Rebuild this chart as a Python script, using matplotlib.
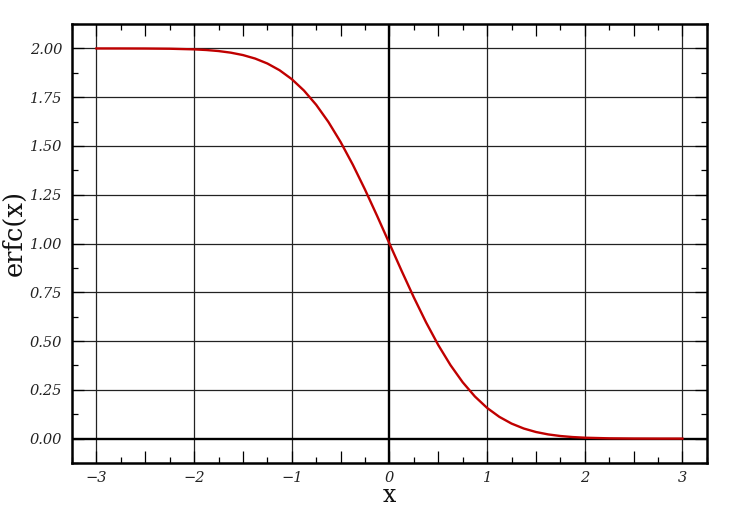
import matplotlib
matplotlib.use('Agg')
import matplotlib.pyplot as plt
from matplotlib.ticker import MultipleLocator, FuncFormatter

# erfc(x) values
x_vals = [-3.0, -2.75, -2.5, -2.25, -2.0, -1.875, -1.75, -1.625, -1.5, -1.375,
          -1.25, -1.125, -1.0, -0.875, -0.75, -0.625, -0.5, -0.375, -0.25, -0.125,
          0.0, 0.125, 0.25, 0.375, 0.5, 0.625, 0.75, 0.875, 1.0, 1.125,
          1.25, 1.375, 1.5, 1.625, 1.75, 1.875, 2.0, 2.25, 2.5, 2.75, 3.0]
erfc_vals = [1.99998, 1.99990, 1.99959, 1.99854, 1.99532, 1.99198, 1.98667, 1.97845, 1.96611, 1.94817,
             1.92290, 1.88839, 1.84270, 1.78408, 1.71116, 1.62324, 1.52050, 1.40412, 1.27633, 1.14032,
             1.00000, 0.85968, 0.72367, 0.59588, 0.47950, 0.37676, 0.28884, 0.21592, 0.15730, 0.11161,
             0.07710, 0.05183, 0.03389, 0.02155, 0.01333, 0.00802, 0.00468, 0.00146, 0.00041, 0.00010, 0.00002]

x_grid = [-3, -2, -1, 1, 2, 3]
y_grid = [0.25, 0.5, 0.75, 1.0, 1.25, 1.5, 1.75, 2.0]

SERIF = 'DejaVu Serif'

fig, ax = plt.subplots(figsize=(7.31, 5.12), dpi=100)
fig.subplots_adjust(left=0.0985, right=0.967, top=0.953, bottom=0.0957)

for gx in x_grid:
    ax.axvline(gx, color='#222222', linewidth=0.9, zorder=1)
for gy in y_grid:
    ax.axhline(gy, color='#222222', linewidth=0.9, zorder=1)
ax.axvline(0, color='black', linewidth=1.7, zorder=2)
ax.axhline(0, color='black', linewidth=1.7, zorder=2)

ax.plot(x_vals, erfc_vals, color='#c00000', linewidth=1.7, zorder=3)

ax.set_xlim(-3.25, 3.25)
ax.set_ylim(-0.125, 2.125)

ax.xaxis.set_major_locator(MultipleLocator(0.5))
ax.xaxis.set_minor_locator(MultipleLocator(0.25))
ax.yaxis.set_major_locator(MultipleLocator(0.25))
ax.yaxis.set_minor_locator(MultipleLocator(0.125))


def x_fmt(v, pos):
    if abs(v - round(v)) < 1e-6:
        return f'{int(round(v))}'.replace('-', '\u2212')
    return ''


ax.xaxis.set_major_formatter(FuncFormatter(x_fmt))
ax.yaxis.set_major_formatter(FuncFormatter(lambda v, p: f'{v:.2f}'))

ax.tick_params(which='both', direction='in', top=True, right=True, width=0.9, colors='black')
ax.tick_params(which='major', length=8.5)
ax.tick_params(which='minor', length=4.3)
ax.tick_params(axis='x', which='major', pad=6)
ax.tick_params(axis='y', which='major', pad=7)

for lbl in ax.get_xticklabels() + ax.get_yticklabels():
    lbl.set_family(SERIF)
    lbl.set_style('italic')
    lbl.set_fontsize(10.5)
    lbl.set_color('#222222')

for sp in ax.spines.values():
    sp.set_linewidth(1.8)

ax.set_xlabel('x', family=SERIF, fontsize=17, labelpad=-1, color='#111111')
ax.set_ylabel('erfc(x)', family=SERIF, fontsize=18.5, color='#111111')
ax.yaxis.set_label_coords(-0.072, 0.524)

fig.savefig('out.png', dpi=100)
